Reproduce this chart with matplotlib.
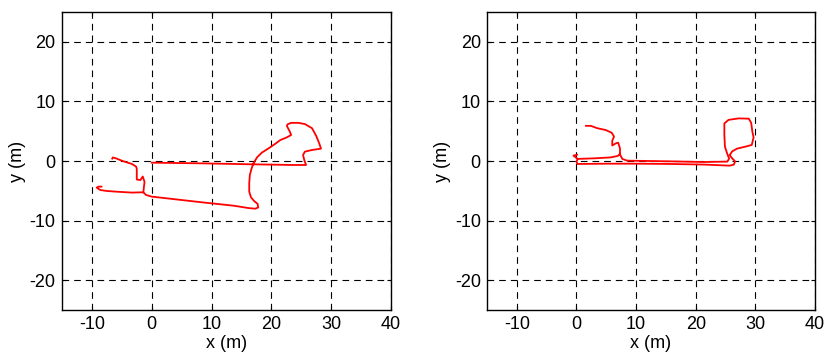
import matplotlib
matplotlib.use("Agg")
import matplotlib.pyplot as plt
import numpy as np

plt.rcParams['font.family'] = ['Liberation Sans', 'DejaVu Sans']
plt.rcParams['axes.unicode_minus'] = False

# ---- Left trajectory (m) ----
left_main_x = [0.0, 8.1, 17.0, 23.7, 25.8, 25.5, 25.3, 25.6, 26.8, 28.3, 28.0, 27.5, 26.8,
               25.6, 24.5, 23.3, 22.7, 22.6, 23.1, 23.3, 22.6, 21.5, 20.6, 19.5, 18.4,
               17.6, 17.0, 16.7, 16.4, 16.3, 16.3, 16.6, 17.1, 17.7, 17.8, 17.3, 16.2,
               13.7, 8.1, 2.5, 0.0, -0.95, -1.4, -1.95, -3.3, -5.85, -7.5, -8.6, -9.2,
               -8.9, -8.4]
left_main_y = [-0.28, -0.39, -0.56, -0.67, -0.67, 0.17, 1.0, 1.57, 1.85, 2.07, 2.96, 4.2, 5.5,
               6.2, 6.4, 6.4, 6.15, 5.87, 4.9, 4.36, 3.97, 3.52, 2.85, 2.1, 1.4,
               0.6, -0.4, -1.23, -2.35, -3.75, -5.15, -6.1, -6.7, -7.2, -7.8, -8.0, -7.9,
               -7.5, -6.9, -6.26, -5.98, -5.7, -5.26, -5.26, -5.3, -5.15, -5.03, -4.87, -4.47,
               -4.3, -4.3]
left_branch_x = [-1.4, -1.3, -1.2, -1.5, -1.9, -2.5, -2.5, -2.6, -3.3, -4.2, -5.0, -5.85, -6.5, -6.6]
left_branch_y = [-5.26, -4.3, -3.5, -2.6, -3.2, -3.1, -1.3, -0.95, -0.5, -0.22, 0.05, 0.4, 0.6, 0.4]

# ---- Right trajectory (m) ----
right_main_x = [1.6, 2.4, 3.5, 4.9, 5.9, 6.3, 6.0, 6.0, 6.6, 7.0, 7.3, 7.3, 7.7, 8.5, 15.8,
                21.4, 25.3, 25.6, 25.3, 24.9, 24.8, 24.8, 25.5, 27.2, 28.9, 29.3, 29.5,
                29.7, 29.4, 28.3, 26.9, 26.1, 25.7, 26.1, 26.6, 26.4, 25.7, 21.4, 15.8,
                10.2, 5.2, 0.17, 0.0, 0.2, 3.0, 5.7, 6.9, 7.3]
right_main_y = [5.9, 5.9, 5.5, 5.2, 4.75, 4.1, 3.4, 2.6, 2.96, 3.07, 2.1, 1.1, 0.34, 0.06, -0.06,
                -0.17, -0.1, 0.4, 1.17, 2.4, 4.36, 6.3, 6.9, 7.15, 7.1, 6.4, 4.9,
                3.97, 2.7, 2.4, 2.07, 1.6, 1.0, 0.45, -0.06, -0.6, -0.78, -0.6, -0.5,
                -0.45, -0.45, -0.5, -0.1, 0.35, 0.45, 0.6, 0.84, 1.17]
right_hook_x = [0.2, -0.5, 0.1]
right_hook_y = [0.35, 0.9, 1.05]

xticks = [-10, 0, 10, 20, 30, 40]
yticks = [-20, -10, 0, 10, 20]

fig = plt.figure(figsize=(8.24, 3.54), dpi=100)
ax1 = fig.add_axes([62/824, 44/354, 329/824, 298/354])
ax2 = fig.add_axes([487/824, 44/354, 328/824, 298/354])

def style(ax):
    ax.set_xlim(-15, 40)
    ax.set_ylim(-25, 25)
    ax.set_xticks(xticks)
    ax.set_yticks(yticks)
    ax.grid(True, color='black', linestyle=(0, (6, 4.5)), linewidth=0.8)
    ax.tick_params(direction='in', length=3, width=0.8, labelsize=13,
                   top=True, right=True, pad=4.5)
    for s in ax.spines.values():
        s.set_linewidth(1.0)
        s.set_color('black')
    ax.set_xlabel('x (m)', fontsize=13, labelpad=1.5)
    ax.set_ylabel('y (m)', fontsize=13, labelpad=3)
    ax.set_axisbelow(True)

style(ax1)
style(ax2)

ax1.plot(left_main_x, left_main_y, color='red', linewidth=1.3)
ax1.plot(left_branch_x, left_branch_y, color='red', linewidth=1.3)
ax2.plot(right_main_x, right_main_y, color='red', linewidth=1.3)
ax2.plot(right_hook_x, right_hook_y, color='red', linewidth=1.3)

fig.savefig('out.png', dpi=100)
